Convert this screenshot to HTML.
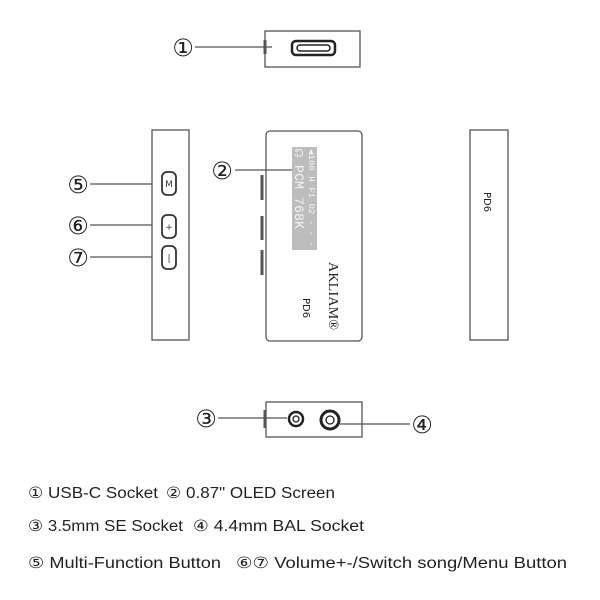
<!DOCTYPE html>
<html><head><meta charset="utf-8"><style>
body{margin:0;width:600px;height:600px;background:#fff;overflow:hidden}
</style></head><body>
<svg width="600" height="600" style="position:absolute;left:0;top:0" font-family="DejaVu Sans, sans-serif">
<g fill="none" stroke="#555" stroke-width="1.3">
<rect x="265" y="31" width="95" height="36"/>
<line x1="195" y1="47" x2="272" y2="47"/>
<line x1="265" y1="40" x2="265" y2="54" stroke-width="3"/>
<rect x="292" y="41" width="43" height="14" rx="4" stroke="#222" stroke-width="2.5"/>
<rect x="297" y="45" width="33" height="6" rx="3" stroke="#222" stroke-width="1.5"/>
<rect x="152" y="130" width="37" height="210"/>
<line x1="90" y1="184" x2="152" y2="184"/>
<line x1="90" y1="225" x2="152" y2="225"/>
<line x1="90" y1="257" x2="152" y2="257"/>
<rect x="162" y="172" width="14" height="23" rx="5" stroke="#333" stroke-width="1.8"/>
<rect x="162" y="215" width="14" height="23" rx="5" stroke="#333" stroke-width="1.8"/>
<rect x="162" y="246" width="14" height="23" rx="5" stroke="#333" stroke-width="1.8"/>
<rect x="266" y="131" width="96" height="210" rx="4"/>
<line x1="262" y1="175" x2="262" y2="200" stroke-width="3"/>
<line x1="262" y1="216" x2="262" y2="240" stroke-width="3"/>
<line x1="262" y1="250" x2="262" y2="275" stroke-width="3"/>
<line x1="235" y1="170" x2="292" y2="170"/>
<rect x="470" y="130" width="38" height="210"/>
<rect x="266" y="402" width="96" height="35"/>
<line x1="265" y1="410" x2="265" y2="428" stroke-width="3"/>
<line x1="218" y1="418" x2="287" y2="418"/>
<line x1="340" y1="424" x2="410" y2="424"/>
<circle cx="296" cy="419" r="7" stroke="#222" stroke-width="2.5"/>
<circle cx="296" cy="419" r="3" stroke="#222"/>
<circle cx="330" cy="420" r="9" stroke="#222" stroke-width="3"/>
<circle cx="330" cy="420" r="4" stroke="#222"/>
</g>
<rect x="292" y="147" width="25" height="103" fill="#bdbdbd"/>
<g fill="#f4f4f4" font-family="Liberation Mono, monospace">
<text transform="translate(309,149) rotate(90)" font-size="8" textLength="98" lengthAdjust="spacingAndGlyphs">◀100 H F1 02 - - -</text>
<text transform="translate(295,149) rotate(90)" font-size="12.5" textLength="80" lengthAdjust="spacingAndGlyphs">☊ PCM 768K</text>
</g>
<text transform="translate(329,262) rotate(90)" font-family="Liberation Serif, serif" font-size="14" fill="#222" textLength="68">AKLIAM®</text>
<text transform="translate(303,298) rotate(90)" font-size="10" fill="#222">PD6</text>
<text transform="translate(484,192) rotate(90)" font-size="10" fill="#222">PD6</text>
<g font-size="9" fill="#333" text-anchor="middle">
<text x="169" y="187">M</text><text x="169" y="230">+</text><text x="169" y="261">|</text>
</g>
<g font-size="24" fill="#222" text-anchor="middle">
<text x="183" y="56">①</text><text x="222" y="179">②</text><text x="206" y="427">③</text><text x="422" y="433">④</text>
<text x="78" y="193">⑤</text><text x="78" y="234">⑥</text><text x="78" y="266">⑦</text>
</g>
<g font-family="Liberation Sans, DejaVu Sans, sans-serif" font-size="15.5" fill="#222">
<text x="28" y="498" textLength="130" lengthAdjust="spacingAndGlyphs">① USB-C Socket</text>
<text x="166" y="498" textLength="169" lengthAdjust="spacingAndGlyphs">② 0.87" OLED Screen</text>
<text x="28" y="531" textLength="155" lengthAdjust="spacingAndGlyphs">③ 3.5mm SE Socket</text>
<text x="193" y="531" textLength="171" lengthAdjust="spacingAndGlyphs">④ 4.4mm BAL Socket</text>
<text x="28" y="568" textLength="193" lengthAdjust="spacingAndGlyphs">⑤ Multi-Function Button</text>
<text x="236" y="568" textLength="331" lengthAdjust="spacingAndGlyphs">⑥⑦ Volume+-/Switch song/Menu Button</text>
</g>
</svg>
</body></html>
